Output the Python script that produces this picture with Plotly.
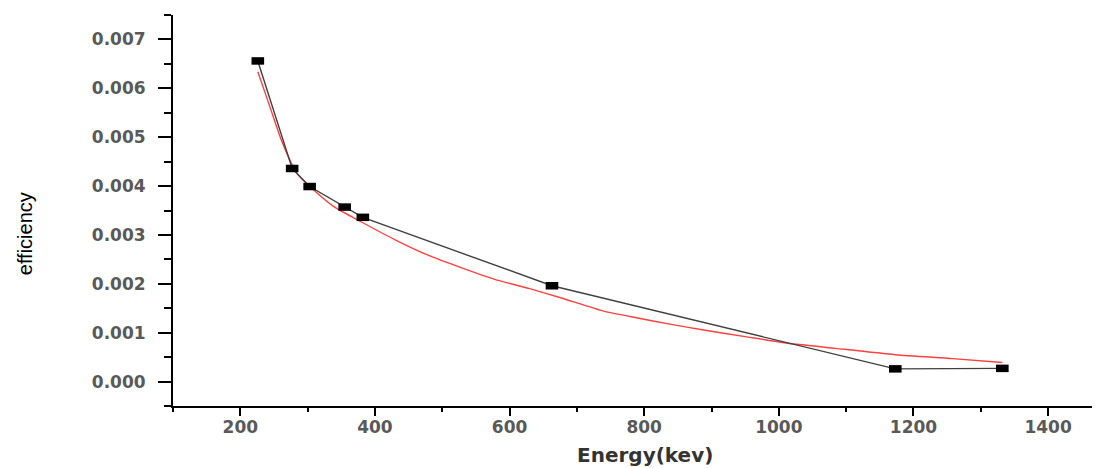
import plotly.graph_objects as go

# Measured data points (black squares)
energy_kev = [226, 277, 303, 355, 382, 663, 1173, 1332]
efficiency = [0.00656, 0.00436, 0.00399, 0.00357, 0.00336, 0.00196, 0.00026, 0.00027]

# Fitted curve (red)
fit_energy = [226, 244, 261, 284, 309, 339, 378, 430, 478, 530, 578, 630, 677, 740, 790, 840, 886, 950, 1005, 1084, 1173, 1258, 1332]
fit_eff = [0.00634, 0.00562, 0.00494, 0.00426, 0.00392, 0.00358, 0.00328, 0.00290, 0.00259, 0.00232, 0.00209, 0.00190, 0.00171, 0.00144, 0.00130, 0.00117, 0.00106, 0.00092, 0.00080, 0.00068, 0.00055, 0.00047, 0.00039]

x_ticks = [200, 400, 600, 800, 1000, 1200, 1400]
y_ticks = [0.000, 0.001, 0.002, 0.003, 0.004, 0.005, 0.006, 0.007]
y_ticklabels = ["0.000", "0.001", "0.002", "0.003", "0.004", "0.005", "0.006", "0.007"]

fig = go.Figure()
fig.add_trace(go.Scatter(
    x=fit_energy, y=fit_eff, mode="lines",
    line=dict(color="#ff4040", width=1.4, shape="spline", smoothing=0.6),
    showlegend=False, hoverinfo="skip"))
fig.add_trace(go.Scatter(
    x=energy_kev, y=efficiency, mode="lines",
    line=dict(color="#404040", width=1.4),
    showlegend=False))
fig.add_trace(go.Scatter(
    x=energy_kev, y=efficiency, mode="markers",
    marker=dict(symbol="line-ew", size=9, line=dict(color="black", width=7.5)),
    showlegend=False))

tick_font = dict(family="DejaVu Sans", size=17, color="#595959", weight="bold")

# page body has an 8px offset in the browser; margins compensate for it
fig.update_layout(
    width=1100, height=468,
    margin=dict(l=165, r=0, t=7, b=70),
    plot_bgcolor="white", paper_bgcolor="white",
    xaxis=dict(
        range=[100, 1489], tickvals=x_ticks,
        showgrid=False, zeroline=False,
        showline=True, linecolor="black", linewidth=2,
        ticks="outside", ticklen=8, tickwidth=2, tickcolor="black",
        minor=dict(dtick=100, tick0=100, ticks="outside", ticklen=4, tickwidth=2, tickcolor="black"),
        tickfont=tick_font, ticklabelstandoff=-3,
    ),
    yaxis=dict(
        range=[-0.0005, 0.0075], tickvals=y_ticks, ticktext=y_ticklabels,
        showgrid=False, zeroline=False,
        showline=True, linecolor="black", linewidth=2,
        ticks="outside", ticklen=13, tickwidth=2, tickcolor="black",
        minor=dict(dtick=0.0005, tick0=0, ticks="outside", ticklen=7, tickwidth=2, tickcolor="black"),
        tickfont=tick_font, ticklabelstandoff=9,
    ),
    annotations=[
        dict(text="Energy(kev)", xref="paper", yref="paper", x=0.505, y=-0.125,
             xanchor="center", yanchor="middle", showarrow=False,
             font=dict(family="DejaVu Sans", size=20, color="#333333", weight="bold")),
        dict(text="efficiency", xref="paper", yref="paper", x=-0.158, y=0.44,
             xanchor="center", yanchor="middle", showarrow=False, textangle=-90,
             font=dict(family="Liberation Sans", size=20, color="black")),
    ],
)

fig.write_html("out.html")
